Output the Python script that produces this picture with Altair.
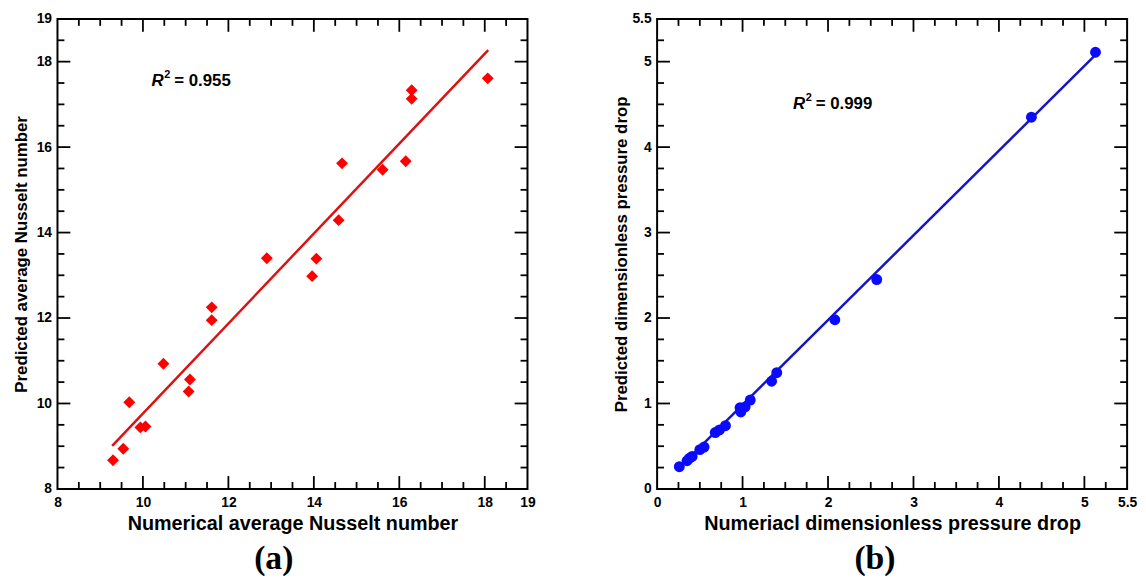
import altair as alt
import pandas as pd

# ---------------- Panel (a): average Nusselt number ----------------
nu_numerical = [9.30, 9.54, 9.68, 9.94, 10.06, 10.48, 11.07, 11.10, 11.61, 11.61,
                12.90, 13.96, 14.06, 14.58, 14.66, 15.61, 16.15, 16.29, 16.29, 18.07]
nu_predicted = [8.67, 8.94, 10.03, 9.44, 9.46, 10.93, 10.28, 10.56, 12.25, 11.95,
                13.40, 12.98, 13.39, 14.29, 15.62, 15.47, 15.67, 17.33, 17.13, 17.61]
nu_fit_x = [9.28, 18.08]
nu_fit_y = [9.01, 18.27]
nu_domain = [8, 19]
nu_labels = [8, 10, 12, 14, 16, 18, 19]
nu_major = [10, 12, 14, 16, 18]
nu_minor = [8.5, 9, 9.5, 10.5, 11, 11.5, 12.5, 13, 13.5, 14.5, 15, 15.5, 16.5, 17, 17.5, 18.5]
nu_r2_pos = [10.2, 17.55]
nu_r2 = "= 0.955"

# ---------------- Panel (b): dimensionless pressure drop ----------------
dp_numerical = [0.26, 0.35, 0.38, 0.41, 0.50, 0.55, 0.68, 0.73, 0.80, 0.97,
                0.98, 1.03, 1.09, 1.34, 1.40, 2.08, 2.57, 4.38, 5.13]
dp_predicted = [0.26, 0.33, 0.36, 0.38, 0.46, 0.49, 0.66, 0.69, 0.74, 0.95,
                0.90, 0.96, 1.04, 1.26, 1.36, 1.98, 2.45, 4.35, 5.11]
dp_fit_x = [0.26, 5.13]
dp_fit_y = [0.25, 5.08]
dp_domain = [0, 5.5]
dp_labels = [0, 1, 2, 3, 4, 5, 5.5]
dp_major = [1, 2, 3, 4, 5]
dp_minor = [0.25, 0.5, 0.75, 1.25, 1.5, 1.75, 2.25, 2.5, 2.75, 3.25, 3.5, 3.75,
            4.25, 4.5, 4.75, 5.25]
dp_r2_pos = [1.59, 4.50]
dp_r2 = "= 0.999"

SANS = "Liberation Sans"
SERIF = "Liberation Serif"
PLOT_SIZE = 475
MAJOR_LEN = 13
MINOR_LEN = 7


def label_axis(orient, values, title, label_pad, title_pad, title_size):
    return alt.Axis(orient=orient, values=values, format=".1~f", ticks=False, domain=False,
                    grid=False, labelFont=SANS, labelFontSize=14, labelFontWeight="bold",
                    labelColor="black", labelPadding=label_pad, labelFlush=False,
                    labelOverlap=False, title=title, titleFont=SANS,
                    titleFontSize=title_size, titleFontWeight="bold", titleColor="black",
                    titlePadding=title_pad)


def panel(px, py, fx, fy, dom, labels, major, minor, xtitle, ytitle, shape, size,
          pcolor, lcolor, r2pos, r2txt, ytitle_pad, tag):
    pts_df = pd.DataFrame({"x": px, "y": py})
    fit_df = pd.DataFrame({"x": fx, "y": fy})
    txt_df = pd.DataFrame({"x": [r2pos[0]], "y": [r2pos[1]]})
    sc = alt.Scale(domain=dom, nice=False, zero=False)
    xaxis = label_axis("bottom", labels, xtitle, 7, 4, 20)
    yaxis = label_axis("left", labels, ytitle, 6, ytitle_pad, 17)
    per_px = (dom[1] - dom[0]) / PLOT_SIZE

    def enc():
        # every layer carries the same (shared) axes
        return dict(x=alt.X("x:Q", scale=sc, axis=xaxis),
                    y=alt.Y("y:Q", scale=sc, axis=yaxis))

    # inward tick marks on all four sides of the frame (axis decoration)
    def tick_layer(values, length):
        d = length * per_px
        rows = []
        for v in values:
            rows.append({"x": v, "y": dom[0], "x2": v, "y2": dom[0] + d})
            rows.append({"x": v, "y": dom[1], "x2": v, "y2": dom[1] - d})
            rows.append({"x": dom[0], "y": v, "x2": dom[0] + d, "y2": v})
            rows.append({"x": dom[1], "y": v, "x2": dom[1] - d, "y2": v})
        return alt.Chart(pd.DataFrame(rows)).mark_rule(
            color="black", strokeWidth=1.8, opacity=1
        ).encode(x2="x2:Q", y2="y2:Q", **enc())

    ticks_major = tick_layer(major, MAJOR_LEN)
    ticks_minor = tick_layer(minor, MINOR_LEN)

    line = alt.Chart(fit_df).mark_line(color=lcolor, strokeWidth=2.5).encode(**enc())
    pts = alt.Chart(pts_df).mark_point(shape=shape, filled=True, size=size,
                                       color=pcolor, opacity=1).encode(**enc())

    r = alt.Chart(txt_df).mark_text(text="R", font=SANS, fontSize=17, fontWeight="bold",
                                    fontStyle="italic", align="left", baseline="middle",
                                    color="black").encode(**enc())
    sup = alt.Chart(txt_df).mark_text(text="2", font=SANS, fontSize=11, fontWeight="bold",
                                      align="left", baseline="middle", dx=13, dy=-6,
                                      color="black").encode(**enc())
    rest = alt.Chart(txt_df).mark_text(text=r2txt, font=SANS, fontSize=17,
                                       fontWeight="bold", align="left",
                                       baseline="middle", dx=23,
                                       color="black").encode(**enc())

    return alt.layer(line, pts, ticks_major, ticks_minor, r, sup, rest).properties(
        width=PLOT_SIZE, height=PLOT_SIZE,
        title=alt.TitleParams(text=tag, orient="bottom", anchor="middle", frame="bounds",
                              font=SERIF, fontSize=34, fontWeight="bold",
                              color="black", offset=9),
    )


left = panel(nu_numerical, nu_predicted, nu_fit_x, nu_fit_y, nu_domain, nu_labels,
             nu_major, nu_minor, "Numerical average Nusselt number",
             "Predicted average Nusselt number", "diamond", 144, "#ff0000", "#dd1111",
             nu_r2_pos, nu_r2, 6, "(a)")
right = panel(dp_numerical, dp_predicted, dp_fit_x, dp_fit_y, dp_domain, dp_labels,
              dp_major, dp_minor, "Numeriacl dimensionless pressure drop",
              "Predicted dimensionless pressure drop", "circle", 121, "#0a0aff", "#1515c8",
              dp_r2_pos, dp_r2, 1, "(b)")

chart = alt.hconcat(left, right, spacing=76).properties(
    padding={"left": 3, "top": 0, "right": 0, "bottom": 0}
).configure_view(stroke="black", strokeWidth=2)

chart.save("out.html", embed_options={"renderer": "svg", "actions": False})
